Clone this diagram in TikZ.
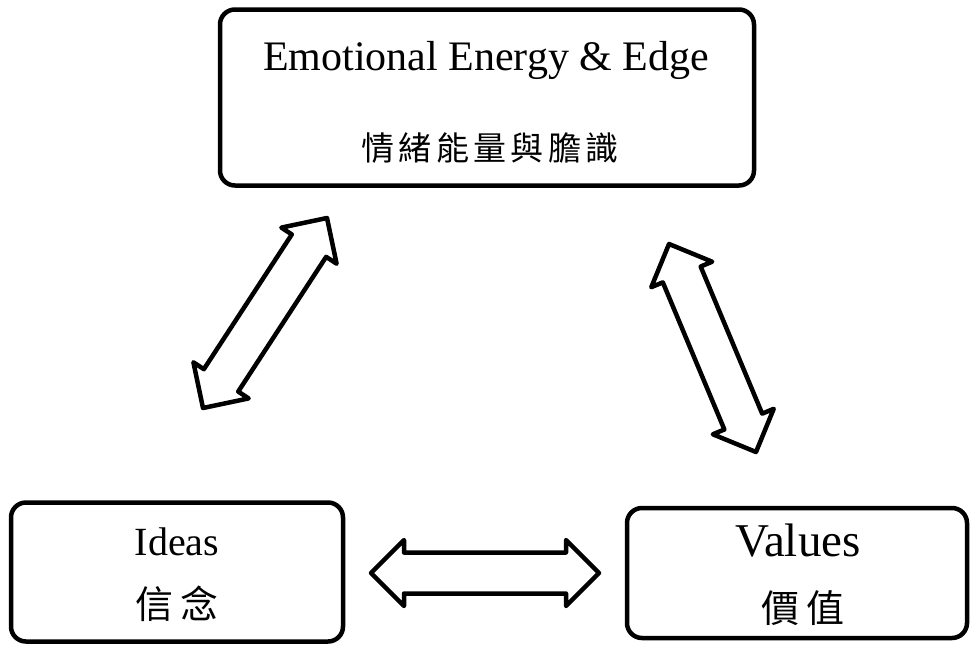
\documentclass[tikz,border=0pt]{standalone}
\usepackage{fontspec}
\setmainfont{Liberation Serif}
\newfontfamily\cjk{Noto Sans CJK TC}
\usetikzlibrary{calc}
\def\ahl{33pt}
\def\ahw{33pt}
\def\asw{20.5pt}
\newcommand\dblarrow[2]{%
  \draw[barrow] (#1)
    -- ($(#1)!\ahl!(#2)!\ahw!90:(#2)$)
    -- ($(#1)!\ahl!(#2)!\asw!90:(#2)$)
    -- ($(#2)!\ahl!(#1)!\asw!-90:(#1)$)
    -- ($(#2)!\ahl!(#1)!\ahw!-90:(#1)$)
    -- (#2)
    -- ($(#2)!\ahl!(#1)!\ahw!90:(#1)$)
    -- ($(#2)!\ahl!(#1)!\asw!90:(#1)$)
    -- ($(#1)!\ahl!(#2)!\asw!-90:(#2)$)
    -- ($(#1)!\ahl!(#2)!\ahw!-90:(#2)$)
    -- cycle;}
\begin{document}
\begin{tikzpicture}[x=1pt,y=-1pt,
  box/.style={draw, line width=4.5pt, rounded corners=15pt, inner sep=0pt},
  barrow/.style={draw, line width=4.5pt, line join=round, fill=white},
  txt/.style={inner sep=0pt, anchor=base},
  enlabel/.style={txt, font=\fontsize{#1}{#1}\selectfont},
  cjktop/.style={txt, font=\cjk\fontsize{33pt}{33pt}\selectfont},
  cjkbot/.style={txt, font=\cjk\fontsize{38pt}{38pt}\selectfont}]
\useasboundingbox (0,0) rectangle (974,646);
\fill[white] (0,0) rectangle (974,646);
% boxes
\node[box, minimum width=534pt, minimum height=176pt] (ee) at (487,97.5) {};
\node[box, minimum width=332pt, minimum height=139pt] (ideas) at (177,572) {};
\node[box, minimum width=340pt, minimum height=130pt] (values) at (797,573) {};
% texts
\node[enlabel=42pt] (eeen) at (486,70) {Emotional Energy \& Edge};
\node[cjktop] (eezh) at (490,160) {情\hspace{4.3pt}緒\hspace{4.3pt}能\hspace{4.3pt}量\hspace{4.3pt}與\hspace{4.3pt}膽\hspace{4.3pt}識};
\node[enlabel=40pt] (ideasen) at (177,555) {Ideas};
\node[cjkbot] (ideaszh) at (177,618.5) {信\hspace{7pt}念};
\node[enlabel=47pt] (valuesen) at (798,556) {Values};
\node[cjkbot] (valueszh) at (803,622) {價\hspace{7pt}值};
% arrow end points
\coordinate (la1) at (327,218);
\coordinate (la2) at (203,408);
\coordinate (ra1) at (669,244);
\coordinate (ra2) at (756,452);
\coordinate (ha1) at (371,573);
\coordinate (ha2) at (599,573);
\dblarrow{la1}{la2}
\dblarrow{ra1}{ra2}
\dblarrow{ha1}{ha2}
\end{tikzpicture}
\end{document}
